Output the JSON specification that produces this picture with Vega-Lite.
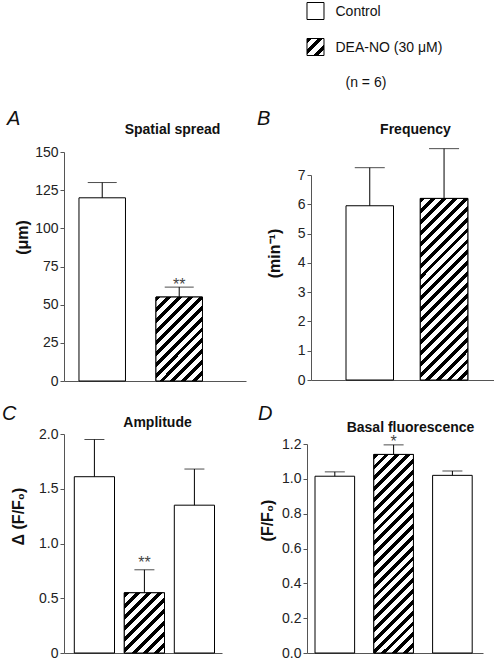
{
"$schema": "https://vega.github.io/schema/vega-lite/v6.json",
"background": "white",
"padding": {"left": 2, "top": 0, "right": 0, "bottom": 0},
"config": {
  "view": {"stroke": null},
  "font": "Liberation Sans",
  "axis": {"grid": false, "domainColor": "#555", "tickColor": "#555", "tickSize": 4, "labelFontSize": 14, "labelColor": "#222", "labelPadding": 2, "titleFontSize": 16, "titleFontWeight": "bold", "titleColor": "#111", "labelFont": "Liberation Sans", "titleFont": "Liberation Sans"},
  "title": {"font": "Liberation Sans", "color": "#111"}
},
"spacing": 15,
"vconcat": [
{
  "concat": [
    {"width": 182, "height": 94, "data": {"values": []}, "mark": {"type": "point", "opacity": 0}, "encoding": {}},
    {
      "width": 67, "height": 94,
      "data": {"values": [
        {"label": "Control", "kind": "Control"},
        {"label": "DEA-NO (30 \u03bcM)", "kind": "DEA"},
        {"label": "(n = 6)", "kind": "none"}
      ]},
      "encoding": {
        "y": {"field": "label", "type": "nominal", "sort": null, "scale": {"type": "point", "padding": 0.3056}, "axis": {"orient": "right", "domain": false, "ticks": false, "labelPadding": {"condition": {"test": "datum.value === '(n = 6)'", "value": 21}, "value": 11}, "labelFontSize": 14, "labelColor": "#111", "title": null, "labelLimit": 0}},
        "x": {"datum": 0.873, "type": "quantitative", "scale": {"domain": [0, 1]}, "axis": null}
      },
      "layer": [
        {"mark": {"type": "square", "size": 289, "filled": true, "fill": "white", "stroke": "black", "strokeWidth": 1},
         "encoding": {"opacity": {"condition": {"test": "datum.kind === 'Control'", "value": 1}, "value": 0}}},
        {"mark": {"type": "square", "size": 289, "filled": true, "stroke": "black", "strokeWidth": 1,
           "fill": {"gradient": "linear", "x1": 0, "y1": 0, "x2": 1, "y2": 1, "stops": [
             {"offset": 0, "color": "black"}, {"offset": 0.15, "color": "black"}, {"offset": 0.15, "color": "white"}, {"offset": 0.3333, "color": "white"},
             {"offset": 0.3333, "color": "black"}, {"offset": 0.4833, "color": "black"}, {"offset": 0.4833, "color": "white"}, {"offset": 0.6667, "color": "white"},
             {"offset": 0.6667, "color": "black"}, {"offset": 0.8167, "color": "black"}, {"offset": 0.8167, "color": "white"}, {"offset": 1, "color": "white"}]}},
         "encoding": {"opacity": {"condition": {"test": "datum.kind === 'DEA'", "value": 1}, "value": 0}}}
      ]
    },
    {
      "width": 182, "height": 229,
      "title": {"text": "A", "anchor": "start", "frame": "group", "dx": -57, "offset": -23, "fontSize": 20, "fontStyle": "italic", "fontWeight": "normal", "baseline": "alphabetic"},
      "data": {"values": [
        {"cond": "Control", "mean": 120, "err": 130, "sig": ""},
        {"cond": "DEA-NO", "mean": 55, "err": 61.5, "sig": "**"}
      ]},
      "resolve": {"axis": {"x": "independent"}},
      "encoding": {
        "x": {"field": "cond", "type": "nominal", "sort": null, "scale": {"paddingInner": 0.396, "paddingOuter": 0.38, "align": 0.256}, "axis": null},
        "y": {"field": "mean", "type": "quantitative", "scale": {"domain": [0, 150], "nice": false}, "axis": {"values": [0, 25, 50, 75, 100, 125, 150], "title": "(\u03bcm)", "titleX": -42, "titleY": 85, "titleBaseline": "middle", "titleAlign": "center"}}
      },
      "layer": [
        {"mark": {"type": "bar", "fill": "white", "stroke": "black", "strokeWidth": 1},
         "encoding": {"x": {"field": "cond", "type": "nominal", "sort": null, "axis": {"orient": "bottom", "domain": true, "ticks": false, "labels": false, "title": null}}}},
        {"mark": {"type": "bar", "stroke": "black", "strokeWidth": 1,
           "fill": {"gradient": "linear", "x1": 0, "y1": 0, "x2": 0.659, "y2": 1.189, "stops": [
             {"offset": 0, "color": "black"}, {"offset": 0.0375, "color": "black"}, {"offset": 0.0375, "color": "white"}, {"offset": 0.0833, "color": "white"},
             {"offset": 0.0833, "color": "black"}, {"offset": 0.1208, "color": "black"}, {"offset": 0.1208, "color": "white"}, {"offset": 0.1667, "color": "white"},
             {"offset": 0.1667, "color": "black"}, {"offset": 0.2042, "color": "black"}, {"offset": 0.2042, "color": "white"}, {"offset": 0.25, "color": "white"},
             {"offset": 0.25, "color": "black"}, {"offset": 0.2875, "color": "black"}, {"offset": 0.2875, "color": "white"}, {"offset": 0.3333, "color": "white"},
             {"offset": 0.3333, "color": "black"}, {"offset": 0.3708, "color": "black"}, {"offset": 0.3708, "color": "white"}, {"offset": 0.4167, "color": "white"},
             {"offset": 0.4167, "color": "black"}, {"offset": 0.4542, "color": "black"}, {"offset": 0.4542, "color": "white"}, {"offset": 0.5, "color": "white"},
             {"offset": 0.5, "color": "black"}, {"offset": 0.5375, "color": "black"}, {"offset": 0.5375, "color": "white"}, {"offset": 0.5833, "color": "white"},
             {"offset": 0.5833, "color": "black"}, {"offset": 0.6208, "color": "black"}, {"offset": 0.6208, "color": "white"}, {"offset": 0.6667, "color": "white"},
             {"offset": 0.6667, "color": "black"}, {"offset": 0.7042, "color": "black"}, {"offset": 0.7042, "color": "white"}, {"offset": 0.75, "color": "white"},
             {"offset": 0.75, "color": "black"}, {"offset": 0.7875, "color": "black"}, {"offset": 0.7875, "color": "white"}, {"offset": 0.8333, "color": "white"},
             {"offset": 0.8333, "color": "black"}, {"offset": 0.8708, "color": "black"}, {"offset": 0.8708, "color": "white"}, {"offset": 0.9167, "color": "white"},
             {"offset": 0.9167, "color": "black"}, {"offset": 0.9542, "color": "black"}, {"offset": 0.9542, "color": "white"}, {"offset": 1, "color": "white"}]}},
         "encoding": {"opacity": {"condition": {"test": "datum.cond === 'DEA-NO'", "value": 1}, "value": 0}}},
        {"mark": {"type": "rule", "color": "black", "strokeWidth": 1},
         "encoding": {
           "x": {"field": "cond", "type": "nominal", "sort": null, "axis": {"orient": "top", "domain": false, "ticks": false, "labels": false, "title": "Spatial spread", "titleFontSize": 14, "titleFontWeight": "bold", "titleX": 108, "titleY": -19, "titleAlign": "center", "titleBaseline": "alphabetic", "titleAngle": 0}},
           "y2": {"field": "err"}}},
        {"mark": {"type": "tick", "color": "black", "size": 29, "thickness": 1},
         "encoding": {"y": {"field": "err", "type": "quantitative", "axis": {"values": [0, 25, 50, 75, 100, 125, 150], "title": "(\u03bcm)", "titleX": -42, "titleY": 85, "titleBaseline": "middle", "titleAlign": "center"}}}},
        {"mark": {"type": "text", "fontSize": 16, "baseline": "alphabetic", "dy": 3, "color": "#444"},
         "encoding": {"y": {"field": "err", "type": "quantitative", "axis": {"values": [0, 25, 50, 75, 100, 125, 150], "title": "(\u03bcm)", "titleX": -42, "titleY": 85, "titleBaseline": "middle", "titleAlign": "center"}}, "text": {"field": "sig"}}}
      ]
    },
    {
      "width": 183, "height": 205,
      "title": {"text": "B", "anchor": "start", "frame": "group", "dx": -54, "offset": -23, "fontSize": 20, "fontStyle": "italic", "fontWeight": "normal", "baseline": "alphabetic"},
      "data": {"values": [
        {"cond": "Control", "mean": 5.95, "err": 7.25, "sig": ""},
        {"cond": "DEA-NO", "mean": 6.2, "err": 7.9, "sig": ""}
      ]},
      "resolve": {"axis": {"x": "independent"}},
      "encoding": {
        "x": {"field": "cond", "type": "nominal", "sort": null, "scale": {"paddingInner": 0.3607, "paddingOuter": 0.412, "align": 0.572}, "axis": null},
        "y": {"field": "mean", "type": "quantitative", "scale": {"domain": [0, 7], "nice": false}, "axis": {"values": [0, 1, 2, 3, 4, 5, 6, 7], "title": "(min\u207b\u00b9)", "titleX": -37, "titleY": 78, "titleBaseline": "middle", "titleAlign": "center"}}
      },
      "layer": [
        {"mark": {"type": "bar", "fill": "white", "stroke": "black", "strokeWidth": 1},
         "encoding": {"x": {"field": "cond", "type": "nominal", "sort": null, "axis": {"orient": "bottom", "domain": true, "ticks": false, "labels": false, "title": null}}}},
        {"mark": {"type": "bar", "stroke": "black", "strokeWidth": 1,
           "fill": {"gradient": "linear", "x1": 0, "y1": 0, "x2": 0.309, "y2": 1.181, "stops": [
             {"offset": 0, "color": "black"}, {"offset": 0.0214, "color": "black"}, {"offset": 0.0214, "color": "white"}, {"offset": 0.0476, "color": "white"},
             {"offset": 0.0476, "color": "black"}, {"offset": 0.069, "color": "black"}, {"offset": 0.069, "color": "white"}, {"offset": 0.0952, "color": "white"},
             {"offset": 0.0952, "color": "black"}, {"offset": 0.1166, "color": "black"}, {"offset": 0.1166, "color": "white"}, {"offset": 0.1429, "color": "white"},
             {"offset": 0.1429, "color": "black"}, {"offset": 0.1643, "color": "black"}, {"offset": 0.1643, "color": "white"}, {"offset": 0.1905, "color": "white"},
             {"offset": 0.1905, "color": "black"}, {"offset": 0.2119, "color": "black"}, {"offset": 0.2119, "color": "white"}, {"offset": 0.2381, "color": "white"},
             {"offset": 0.2381, "color": "black"}, {"offset": 0.2595, "color": "black"}, {"offset": 0.2595, "color": "white"}, {"offset": 0.2857, "color": "white"},
             {"offset": 0.2857, "color": "black"}, {"offset": 0.3071, "color": "black"}, {"offset": 0.3071, "color": "white"}, {"offset": 0.3333, "color": "white"},
             {"offset": 0.3333, "color": "black"}, {"offset": 0.3547, "color": "black"}, {"offset": 0.3547, "color": "white"}, {"offset": 0.381, "color": "white"},
             {"offset": 0.381, "color": "black"}, {"offset": 0.4024, "color": "black"}, {"offset": 0.4024, "color": "white"}, {"offset": 0.4286, "color": "white"},
             {"offset": 0.4286, "color": "black"}, {"offset": 0.45, "color": "black"}, {"offset": 0.45, "color": "white"}, {"offset": 0.4762, "color": "white"},
             {"offset": 0.4762, "color": "black"}, {"offset": 0.4976, "color": "black"}, {"offset": 0.4976, "color": "white"}, {"offset": 0.5238, "color": "white"},
             {"offset": 0.5238, "color": "black"}, {"offset": 0.5452, "color": "black"}, {"offset": 0.5452, "color": "white"}, {"offset": 0.5714, "color": "white"},
             {"offset": 0.5714, "color": "black"}, {"offset": 0.5928, "color": "black"}, {"offset": 0.5928, "color": "white"}, {"offset": 0.619, "color": "white"},
             {"offset": 0.619, "color": "black"}, {"offset": 0.6404, "color": "black"}, {"offset": 0.6404, "color": "white"}, {"offset": 0.6667, "color": "white"},
             {"offset": 0.6667, "color": "black"}, {"offset": 0.6881, "color": "black"}, {"offset": 0.6881, "color": "white"}, {"offset": 0.7143, "color": "white"},
             {"offset": 0.7143, "color": "black"}, {"offset": 0.7357, "color": "black"}, {"offset": 0.7357, "color": "white"}, {"offset": 0.7619, "color": "white"},
             {"offset": 0.7619, "color": "black"}, {"offset": 0.7833, "color": "black"}, {"offset": 0.7833, "color": "white"}, {"offset": 0.8095, "color": "white"},
             {"offset": 0.8095, "color": "black"}, {"offset": 0.8309, "color": "black"}, {"offset": 0.8309, "color": "white"}, {"offset": 0.8571, "color": "white"},
             {"offset": 0.8571, "color": "black"}, {"offset": 0.8785, "color": "black"}, {"offset": 0.8785, "color": "white"}, {"offset": 0.9048, "color": "white"},
             {"offset": 0.9048, "color": "black"}, {"offset": 0.9262, "color": "black"}, {"offset": 0.9262, "color": "white"}, {"offset": 0.9524, "color": "white"},
             {"offset": 0.9524, "color": "black"}, {"offset": 0.9738, "color": "black"}, {"offset": 0.9738, "color": "white"}, {"offset": 1, "color": "white"}]}},
         "encoding": {"opacity": {"condition": {"test": "datum.cond === 'DEA-NO'", "value": 1}, "value": 0}}},
        {"mark": {"type": "rule", "color": "black", "strokeWidth": 1},
         "encoding": {
           "x": {"field": "cond", "type": "nominal", "sort": null, "axis": {"orient": "top", "domain": false, "ticks": false, "labels": false, "title": "Frequency", "titleFontSize": 14, "titleFontWeight": "bold", "titleX": 104, "titleY": -42, "titleAlign": "center", "titleBaseline": "alphabetic", "titleAngle": 0}},
           "y2": {"field": "err"}}},
        {"mark": {"type": "tick", "color": "black", "size": 30, "thickness": 1},
         "encoding": {"y": {"field": "err", "type": "quantitative", "axis": {"values": [0, 1, 2, 3, 4, 5, 6, 7], "title": "(min\u207b\u00b9)", "titleX": -37, "titleY": 78, "titleBaseline": "middle", "titleAlign": "center"}}}}
      ]
    }
  ],
  "columns": 2, "align": "none", "bounds": "full", "spacing": {"row": 15, "column": 11}
},
{
  "concat": [
    {"width": 158, "height": 1, "data": {"values": []}, "mark": {"type": "point", "opacity": 0}, "encoding": {}},
    {"width": 1, "height": 1, "data": {"values": []}, "mark": {"type": "point", "opacity": 0}, "encoding": {}},
    {
      "width": 158, "height": 219,
      "title": {"text": "C", "anchor": "start", "frame": "group", "dx": -62, "offset": -25, "fontSize": 20, "fontStyle": "italic", "fontWeight": "normal", "baseline": "alphabetic"},
      "data": {"values": [
        {"cond": "Control", "mean": 1.61, "err": 1.95, "sig": ""},
        {"cond": "DEA-NO", "mean": 0.55, "err": 0.76, "sig": "**"},
        {"cond": "Washout", "mean": 1.35, "err": 1.68, "sig": ""}
      ]},
      "resolve": {"axis": {"x": "independent"}},
      "encoding": {
        "x": {"field": "cond", "type": "nominal", "sort": null, "scale": {"paddingInner": 0.196, "paddingOuter": 0.178, "align": 0.579}, "axis": null},
        "y": {"field": "mean", "type": "quantitative", "scale": {"domain": [0, 2], "nice": false}, "axis": {"values": [0, 0.5, 1, 1.5, 2], "labelExpr": "datum.value === 0 ? '0' : format(datum.value, '.1f')", "title": "\u0394 (F/F\u2080)", "titleX": -46, "titleY": 82, "titleBaseline": "middle", "titleAlign": "center"}}
      },
      "layer": [
        {"mark": {"type": "bar", "fill": "white", "stroke": "black", "strokeWidth": 1},
         "encoding": {"x": {"field": "cond", "type": "nominal", "sort": null, "axis": {"orient": "bottom", "domain": true, "ticks": false, "labels": false, "title": null}}}},
        {"mark": {"type": "bar", "stroke": "black", "strokeWidth": 1,
           "fill": {"gradient": "linear", "x1": 0, "y1": 0, "x2": 0.77, "y2": 1.153, "stops": [
             {"offset": 0, "color": "black"}, {"offset": 0.05, "color": "black"}, {"offset": 0.05, "color": "white"}, {"offset": 0.1111, "color": "white"},
             {"offset": 0.1111, "color": "black"}, {"offset": 0.1611, "color": "black"}, {"offset": 0.1611, "color": "white"}, {"offset": 0.2222, "color": "white"},
             {"offset": 0.2222, "color": "black"}, {"offset": 0.2722, "color": "black"}, {"offset": 0.2722, "color": "white"}, {"offset": 0.3333, "color": "white"},
             {"offset": 0.3333, "color": "black"}, {"offset": 0.3833, "color": "black"}, {"offset": 0.3833, "color": "white"}, {"offset": 0.4444, "color": "white"},
             {"offset": 0.4444, "color": "black"}, {"offset": 0.4944, "color": "black"}, {"offset": 0.4944, "color": "white"}, {"offset": 0.5556, "color": "white"},
             {"offset": 0.5556, "color": "black"}, {"offset": 0.6056, "color": "black"}, {"offset": 0.6056, "color": "white"}, {"offset": 0.6667, "color": "white"},
             {"offset": 0.6667, "color": "black"}, {"offset": 0.7167, "color": "black"}, {"offset": 0.7167, "color": "white"}, {"offset": 0.7778, "color": "white"},
             {"offset": 0.7778, "color": "black"}, {"offset": 0.8278, "color": "black"}, {"offset": 0.8278, "color": "white"}, {"offset": 0.8889, "color": "white"},
             {"offset": 0.8889, "color": "black"}, {"offset": 0.9389, "color": "black"}, {"offset": 0.9389, "color": "white"}, {"offset": 1, "color": "white"}]}},
         "encoding": {"opacity": {"condition": {"test": "datum.cond === 'DEA-NO'", "value": 1}, "value": 0}}},
        {"mark": {"type": "rule", "color": "black", "strokeWidth": 1},
         "encoding": {
           "x": {"field": "cond", "type": "nominal", "sort": null, "axis": {"orient": "top", "domain": false, "ticks": false, "labels": false, "title": "Amplitude", "titleFontSize": 14, "titleFontWeight": "bold", "titleX": 93, "titleY": -8, "titleAlign": "center", "titleBaseline": "alphabetic", "titleAngle": 0}},
           "y2": {"field": "err"}}},
        {"mark": {"type": "tick", "color": "black", "size": 20, "thickness": 1},
         "encoding": {"y": {"field": "err", "type": "quantitative", "axis": {"values": [0, 0.5, 1, 1.5, 2], "labelExpr": "datum.value === 0 ? '0' : format(datum.value, '.1f')", "title": "\u0394 (F/F\u2080)", "titleX": -46, "titleY": 82, "titleBaseline": "middle", "titleAlign": "center"}}}},
        {"mark": {"type": "text", "fontSize": 16, "baseline": "alphabetic", "dy": -2, "color": "#444"},
         "encoding": {"y": {"field": "err", "type": "quantitative", "axis": {"values": [0, 0.5, 1, 1.5, 2], "labelExpr": "datum.value === 0 ? '0' : format(datum.value, '.1f')", "title": "\u0394 (F/F\u2080)", "titleX": -46, "titleY": 82, "titleBaseline": "middle", "titleAlign": "center"}}, "text": {"field": "sig"}}}
      ]
    },
    {
      "width": 176, "height": 209,
      "title": {"text": "D", "anchor": "start", "frame": "group", "dx": -49, "offset": -20, "fontSize": 20, "fontStyle": "italic", "fontWeight": "normal", "baseline": "alphabetic"},
      "data": {"values": [
        {"cond": "Control", "mean": 1.015, "err": 1.04, "sig": ""},
        {"cond": "DEA-NO", "mean": 1.14, "err": 1.195, "sig": "*"},
        {"cond": "Washout", "mean": 1.02, "err": 1.045, "sig": ""}
      ]},
      "resolve": {"axis": {"x": "independent"}},
      "encoding": {
        "x": {"field": "cond", "type": "nominal", "sort": null, "scale": {"paddingInner": 0.3265, "paddingOuter": 0.16, "align": 0.426}, "axis": null},
        "y": {"field": "mean", "type": "quantitative", "scale": {"domain": [0, 1.2], "nice": false}, "axis": {"values": [0, 0.2, 0.4, 0.6, 0.8, 1, 1.2], "format": ".1f", "title": "(F/F\u2080)", "titleX": -40, "titleY": 76, "titleBaseline": "middle", "titleAlign": "center"}}
      },
      "layer": [
        {"mark": {"type": "bar", "fill": "white", "stroke": "black", "strokeWidth": 1},
         "encoding": {"x": {"field": "cond", "type": "nominal", "sort": null, "axis": {"orient": "bottom", "domain": true, "ticks": false, "labels": false, "title": null}}}},
        {"mark": {"type": "bar", "stroke": "black", "strokeWidth": 1,
           "fill": {"gradient": "linear", "x1": 0, "y1": 0, "x2": 0.23, "y2": 1.154, "stops": [
             {"offset": 0, "color": "black"}, {"offset": 0.0205, "color": "black"}, {"offset": 0.0205, "color": "white"}, {"offset": 0.0455, "color": "white"},
             {"offset": 0.0455, "color": "black"}, {"offset": 0.066, "color": "black"}, {"offset": 0.066, "color": "white"}, {"offset": 0.0909, "color": "white"},
             {"offset": 0.0909, "color": "black"}, {"offset": 0.1114, "color": "black"}, {"offset": 0.1114, "color": "white"}, {"offset": 0.1364, "color": "white"},
             {"offset": 0.1364, "color": "black"}, {"offset": 0.1569, "color": "black"}, {"offset": 0.1569, "color": "white"}, {"offset": 0.1818, "color": "white"},
             {"offset": 0.1818, "color": "black"}, {"offset": 0.2023, "color": "black"}, {"offset": 0.2023, "color": "white"}, {"offset": 0.2273, "color": "white"},
             {"offset": 0.2273, "color": "black"}, {"offset": 0.2478, "color": "black"}, {"offset": 0.2478, "color": "white"}, {"offset": 0.2727, "color": "white"},
             {"offset": 0.2727, "color": "black"}, {"offset": 0.2932, "color": "black"}, {"offset": 0.2932, "color": "white"}, {"offset": 0.3182, "color": "white"},
             {"offset": 0.3182, "color": "black"}, {"offset": 0.3387, "color": "black"}, {"offset": 0.3387, "color": "white"}, {"offset": 0.3636, "color": "white"},
             {"offset": 0.3636, "color": "black"}, {"offset": 0.3841, "color": "black"}, {"offset": 0.3841, "color": "white"}, {"offset": 0.4091, "color": "white"},
             {"offset": 0.4091, "color": "black"}, {"offset": 0.4296, "color": "black"}, {"offset": 0.4296, "color": "white"}, {"offset": 0.4545, "color": "white"},
             {"offset": 0.4545, "color": "black"}, {"offset": 0.475, "color": "black"}, {"offset": 0.475, "color": "white"}, {"offset": 0.5, "color": "white"},
             {"offset": 0.5, "color": "black"}, {"offset": 0.5205, "color": "black"}, {"offset": 0.5205, "color": "white"}, {"offset": 0.5455, "color": "white"},
             {"offset": 0.5455, "color": "black"}, {"offset": 0.566, "color": "black"}, {"offset": 0.566, "color": "white"}, {"offset": 0.5909, "color": "white"},
             {"offset": 0.5909, "color": "black"}, {"offset": 0.6114, "color": "black"}, {"offset": 0.6114, "color": "white"}, {"offset": 0.6364, "color": "white"},
             {"offset": 0.6364, "color": "black"}, {"offset": 0.6569, "color": "black"}, {"offset": 0.6569, "color": "white"}, {"offset": 0.6818, "color": "white"},
             {"offset": 0.6818, "color": "black"}, {"offset": 0.7023, "color": "black"}, {"offset": 0.7023, "color": "white"}, {"offset": 0.7273, "color": "white"},
             {"offset": 0.7273, "color": "black"}, {"offset": 0.7478, "color": "black"}, {"offset": 0.7478, "color": "white"}, {"offset": 0.7727, "color": "white"},
             {"offset": 0.7727, "color": "black"}, {"offset": 0.7932, "color": "black"}, {"offset": 0.7932, "color": "white"}, {"offset": 0.8182, "color": "white"},
             {"offset": 0.8182, "color": "black"}, {"offset": 0.8387, "color": "black"}, {"offset": 0.8387, "color": "white"}, {"offset": 0.8636, "color": "white"},
             {"offset": 0.8636, "color": "black"}, {"offset": 0.8841, "color": "black"}, {"offset": 0.8841, "color": "white"}, {"offset": 0.9091, "color": "white"},
             {"offset": 0.9091, "color": "black"}, {"offset": 0.9296, "color": "black"}, {"offset": 0.9296, "color": "white"}, {"offset": 0.9545, "color": "white"},
             {"offset": 0.9545, "color": "black"}, {"offset": 0.975, "color": "black"}, {"offset": 0.975, "color": "white"}, {"offset": 1, "color": "white"}]}},
         "encoding": {"opacity": {"condition": {"test": "datum.cond === 'DEA-NO'", "value": 1}, "value": 0}}},
        {"mark": {"type": "rule", "color": "black", "strokeWidth": 1},
         "encoding": {
           "x": {"field": "cond", "type": "nominal", "sort": null, "axis": {"orient": "top", "domain": false, "ticks": false, "labels": false, "title": "Basal fluorescence", "titleFontSize": 14, "titleFontWeight": "bold", "titleX": 103, "titleY": -13, "titleAlign": "center", "titleBaseline": "alphabetic", "titleAngle": 0}},
           "y2": {"field": "err"}}},
        {"mark": {"type": "tick", "color": "black", "size": 20, "thickness": 1},
         "encoding": {"y": {"field": "err", "type": "quantitative", "axis": {"values": [0, 0.2, 0.4, 0.6, 0.8, 1, 1.2], "format": ".1f", "title": "(F/F\u2080)", "titleX": -40, "titleY": 76, "titleBaseline": "middle", "titleAlign": "center"}}}},
        {"mark": {"type": "text", "fontSize": 16, "baseline": "alphabetic", "dy": 2, "color": "#444"},
         "encoding": {"y": {"field": "err", "type": "quantitative", "axis": {"values": [0, 0.2, 0.4, 0.6, 0.8, 1, 1.2], "format": ".1f", "title": "(F/F\u2080)", "titleX": -40, "titleY": 76, "titleBaseline": "middle", "titleAlign": "center"}}, "text": {"field": "sig"}}}
      ]
    }
  ],
  "columns": 2, "align": "none", "bounds": "full", "spacing": {"row": 0, "column": 36}
}
]
}
